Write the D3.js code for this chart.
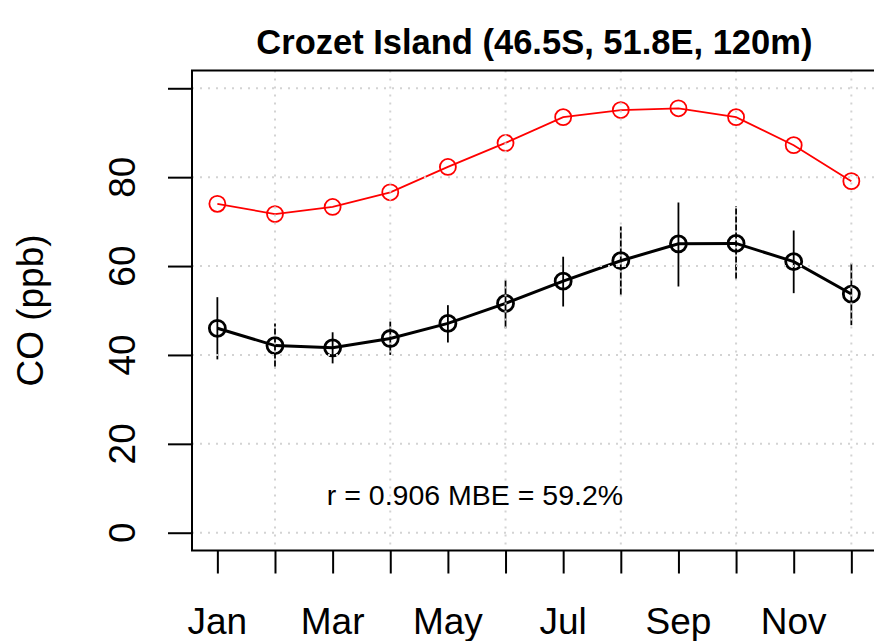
<!DOCTYPE html>
<html>
<head>
<meta charset="utf-8">
<script src="https://cdn.jsdelivr.net/npm/d3@7"></script>
<style>
  body { margin: 0; background: #fff; }
  svg { display: block; font-family: "Liberation Sans", Arial, Helvetica, sans-serif; }
</style>
</head>
<body>
<div id="chart"></div>
<script>
var months = [1, 2, 3, 4, 5, 6, 7, 8, 9, 10, 11, 12];
var monthNames = ['Jan', 'Feb', 'Mar', 'Apr', 'May', 'Jun', 'Jul', 'Aug', 'Sep', 'Oct', 'Nov', 'Dec'];
var model = [74.0, 71.7, 73.3, 76.6, 82.3, 87.7, 93.5, 95.1, 95.5, 93.5, 87.2, 79.1];
var obs = [46.0, 42.1, 41.6, 43.7, 47.1, 51.6, 56.6, 61.2, 65.0, 65.1, 61.0, 53.7];
var obsHigh = [53.0, 47.1, 45.1, 47.5, 51.2, 56.8, 62.1, 68.9, 74.3, 73.5, 68.0, 60.6];
var obsLow = [39.0, 37.0, 38.1, 40.0, 42.8, 46.0, 50.9, 53.5, 55.4, 56.9, 53.9, 46.7];
var yTicks = [0, 20, 40, 60, 80, 100];
var yLabels = [0, 20, 40, 60, 80];
var xLabels = ['Jan', 'Mar', 'May', 'Jul', 'Sep', 'Nov'];
var title = 'Crozet Island (46.5S, 51.8E, 120m)';
var statText = 'r = 0.906 MBE = 59.2%';

var width = 874;
var height = 641;
var plot = { left: 192, right: 876.7, top: 70.5, bottom: 550.5 };

var svg = d3.select('#chart')
  .append('svg')
  .attr('width', width)
  .attr('height', height);

// R style: 4% padding on both axes
var x = d3.scaleLinear()
  .domain([1 - 0.44, 12 + 0.44])
  .range([plot.left, plot.right]);

var y = d3.scaleLinear()
  .domain([-4, 104])
  .range([plot.bottom, plot.top]);

var data = months.map((m, i) => ({
  m: m, model: model[i], obs: obs[i], lo: obsLow[i], hi: obsHigh[i]
}));

// error bars
svg.append('g')
  .attr('stroke', '#000')
  .attr('stroke-width', 1.8)
  .selectAll('line')
  .data(data)
  .join('line')
  .attr('x1', d => x(d.m))
  .attr('x2', d => x(d.m))
  .attr('y1', d => y(d.lo))
  .attr('y2', d => y(d.hi));

// observed (black)
svg.append('path')
  .datum(data)
  .attr('fill', 'none')
  .attr('stroke', '#000')
  .attr('stroke-width', 3)
  .attr('d', d3.line().x(d => x(d.m)).y(d => y(d.obs)));

svg.append('g')
  .selectAll('circle')
  .data(data)
  .join('circle')
  .attr('cx', d => x(d.m))
  .attr('cy', d => y(d.obs))
  .attr('r', 8)
  .attr('fill', 'none')
  .attr('stroke', '#000')
  .attr('stroke-width', 2.8);

// model (red)
svg.append('path')
  .datum(data)
  .attr('fill', 'none')
  .attr('stroke', '#ff0000')
  .attr('stroke-width', 1.8)
  .attr('d', d3.line().x(d => x(d.m)).y(d => y(d.model)));

svg.append('g')
  .selectAll('circle')
  .data(data)
  .join('circle')
  .attr('cx', d => x(d.m))
  .attr('cy', d => y(d.model))
  .attr('r', 8)
  .attr('fill', 'none')
  .attr('stroke', '#ff0000')
  .attr('stroke-width', 1.8);

// dotted grid drawn on top, like grid() after the plot
var grid = svg.append('g')
  .attr('stroke', '#d3d3d3')
  .attr('stroke-width', 2)
  .attr('stroke-dasharray', '2,6');

grid.selectAll('.hg')
  .data(yTicks)
  .join('line')
  .attr('class', 'hg')
  .attr('x1', plot.left)
  .attr('x2', plot.right)
  .attr('y1', d => y(d))
  .attr('y2', d => y(d));

grid.selectAll('.vg')
  .data(months.filter(m => m % 2 === 0))
  .join('line')
  .attr('class', 'vg')
  .attr('x1', d => x(d))
  .attr('x2', d => x(d))
  .attr('y1', plot.top)
  .attr('y2', plot.bottom);

// box
svg.append('rect')
  .attr('x', plot.left)
  .attr('y', plot.top)
  .attr('width', plot.right - plot.left)
  .attr('height', plot.bottom - plot.top)
  .attr('fill', 'none')
  .attr('stroke', '#000')
  .attr('stroke-width', 2);

// y axis
svg.append('g')
  .attr('transform', `translate(${plot.left}, 0)`)
  .call(d3.axisLeft(y).tickValues(yTicks).tickSize(24).tickFormat(''))
  .call(g => g.select('.domain').remove())
  .call(g => g.selectAll('.tick line').attr('stroke', '#000').attr('stroke-width', 2));

svg.append('g')
  .selectAll('text')
  .data(yLabels)
  .join('text')
  .attr('transform', d => `translate(135, ${y(d)}) rotate(-90)`)
  .attr('text-anchor', 'middle')
  .attr('font-size', '37px')
  .text(d => d);

// x axis
svg.append('g')
  .attr('transform', `translate(0, ${plot.bottom})`)
  .call(d3.axisBottom(x).tickValues(months).tickSize(23).tickFormat(''))
  .call(g => g.select('.domain').remove())
  .call(g => g.selectAll('.tick line').attr('stroke', '#000').attr('stroke-width', 2));

svg.append('g')
  .selectAll('text')
  .data(xLabels)
  .join('text')
  .attr('x', d => x(monthNames.indexOf(d) + 1))
  .attr('y', 634)
  .attr('text-anchor', 'middle')
  .attr('font-size', '37px')
  .text(d => d);

// labels
svg.append('text')
  .attr('transform', `translate(43, ${(plot.top + plot.bottom) / 2}) rotate(-90)`)
  .attr('text-anchor', 'middle')
  .attr('font-size', '37px')
  .text('CO (ppb)');

svg.append('text')
  .attr('x', (plot.left + plot.right) / 2)
  .attr('y', 54)
  .attr('text-anchor', 'middle')
  .attr('font-size', '34.5px')
  .attr('font-weight', 'bold')
  .text(title);

svg.append('text')
  .attr('x', x(5.47))
  .attr('y', y(6.2))
  .attr('text-anchor', 'middle')
  .attr('font-size', '28.5px')
  .text(statText);
</script>
</body>
</html>
